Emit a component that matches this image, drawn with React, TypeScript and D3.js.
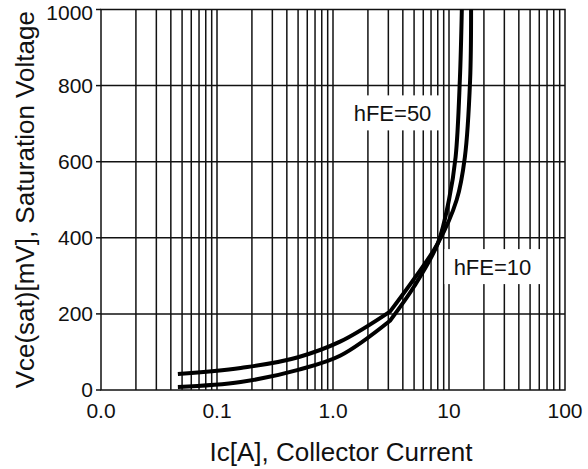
import * as d3 from 'd3';
import React from 'react';

// collector current [A] and Vce(sat) [mV]
const hfe50Ic = [0.046, 0.16, 0.5, 1.15, 3.1, 5.0, 8.0, 10.0, 11.4, 12.4, 12.9];
const hfe50Vce = [8, 21, 53, 90, 182, 272, 385, 500, 612, 814, 1000];
const hfe10Ic = [0.046, 0.16, 0.5, 1.15, 3.1, 5.0, 8.0, 11.65, 13.7, 15.2, 15.5];
const hfe10Vce = [42, 58, 86, 127, 206, 292, 385, 500, 612, 814, 1000];
const kinkIndex = 4; // curves bend sharply at ~3 A

const yTicks = [0, 200, 400, 600, 800, 1000];
const xTicks = [0.01, 0.1, 1, 10, 100];
const xTickLabels = ['0.0', '0.1', '1.0', '10', '100'];

const curveLabels = [
  { text: 'hFE=50', ic: 3.26, v: 727 },
  { text: 'hFE=10', ic: 23.7, v: 323 },
];

const W = 588, H = 469;
const margin = { top: 9.5, right: 23, bottom: 79, left: 101 };
const font = '"Liberation Sans", Arial, sans-serif';

const App = () => {
  const x = d3.scaleLog().domain([0.01, 100]).range([margin.left, W - margin.right]);
  const y = d3.scaleLinear().domain([0, 1000]).range([H - margin.bottom, margin.top]);

  const gridX = x.ticks().filter(d => d > 0.01 && d < 100);
  const gridY = yTicks.filter(d => d > 0 && d < 1000);

  const lowLine = d3.line<[number, number]>()
    .x(d => x(d[0]))
    .y(d => y(d[1]))
    .curve(d3.curveMonotoneX);
  const highLine = d3.line<[number, number]>()
    .x(d => x(d[0]))
    .y(d => y(d[1]))
    .curve(d3.curveCatmullRom.alpha(0.5));

  const series = [
    d3.zip(hfe50Ic, hfe50Vce) as [number, number][],
    d3.zip(hfe10Ic, hfe10Vce) as [number, number][],
  ];

  // two smooth pieces that meet at the kink
  const pathFor = (s: [number, number][]) =>
    (lowLine(s.slice(0, kinkIndex + 1)) || '') + (highLine(s.slice(kinkIndex)) || '').replace(/^M/, 'L');

  return (
    <svg width={W} height={H} style={{ position: 'absolute', left: 0, top: 0, background: '#fff' }}>
      {gridX.map(d => (
        <line key={'gx' + d} x1={x(d)} x2={x(d)} y1={y(0)} y2={y(1000)} stroke="#111" strokeWidth={1.5} />
      ))}
      {gridY.map(d => (
        <line key={'gy' + d} x1={x(0.01)} x2={x(100)} y1={y(d)} y2={y(d)} stroke="#111" strokeWidth={1.5} />
      ))}
      {/* white boxes behind the curve labels */}
      {curveLabels.map(l => (
        <rect key={'bg' + l.text} x={x(l.ic) - 48} y={y(l.v) - 18} width={96} height={35} fill="#fff" />
      ))}
      <rect x={x(0.01)} y={y(1000)} width={x(100) - x(0.01)} height={y(0) - y(1000)}
        fill="none" stroke="#111" strokeWidth={1.5} />
      {yTicks.map(d => (
        <g key={'yt' + d}>
          <line x1={x(0.01) - 5} x2={x(0.01)} y1={y(d)} y2={y(d)} stroke="#111" strokeWidth={1.5} />
          <text x={x(0.01) - 8} y={Math.max(y(d), 13)} dy="0.35em" textAnchor="end" fontSize={21} fontFamily={font} fill="#111">{d}</text>
        </g>
      ))}
      {xTicks.map((d, i) => (
        <text key={'xt' + d} x={x(d)} y={418} textAnchor="middle" fontSize={21} fontFamily={font} fill="#111">{xTickLabels[i]}</text>
      ))}
      {series.map((s, i) => (
        <path key={'s' + i} d={pathFor(s)} fill="none" stroke="#000" strokeWidth={4} strokeLinejoin="round" />
      ))}
      {curveLabels.map(l => (
        <text key={l.text} x={x(l.ic)} y={y(l.v)} dy="0.35em" textAnchor="middle" fontSize={22} fontFamily={font} fill="#111">{l.text}</text>
      ))}
      <text x={(x(0.01) + x(100)) / 2 + 8} y={461} textAnchor="middle" fontSize={26} fontFamily={font} fill="#111">
        Ic[A], Collector Current
      </text>
      <text transform={`translate(34,${(y(0) + y(1000)) / 2}) rotate(-90)`} textAnchor="middle" fontSize={26} fontFamily={font} fill="#111">
        Vce(sat)[mV], Saturation Voltage
      </text>
    </svg>
  );
};

export default App;
